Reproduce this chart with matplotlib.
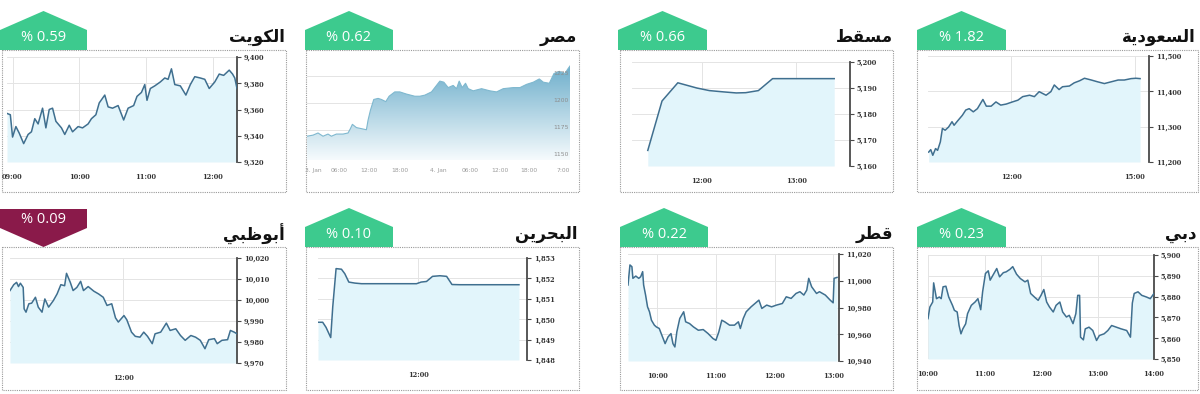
import numpy as np
import matplotlib
matplotlib.use("Agg")
import matplotlib.pyplot as plt
from matplotlib.patches import Polygon, Rectangle
from matplotlib.colors import LinearSegmentedColormap

# ---- data ----
names = ["الكويت", "مصر", "مسقط", "السعودية", "أبوظبي", "البحرين", "قطر", "دبي"]
changes = ["% 0.59", "% 0.62", "% 0.66", "% 1.82", "% 0.09", "% 0.10", "% 0.22", "% 0.23"]
is_up = [True, True, True, True, False, True, True, True]

kuwait_t = ["08:55", "08:58", "09:00", "09:03", "09:06", "09:10", "09:14", "09:17", "09:20", "09:23",
            "09:27", "09:30", "09:33", "09:36", "09:39", "09:44", "09:47", "09:51", "09:54", "09:59",
            "10:03", "10:08", "10:11", "10:15", "10:18", "10:23", "10:26", "10:30", "10:35", "10:40",
            "10:44", "10:49", "10:52", "10:56", "10:59", "11:01", "11:04", "11:08", "11:13", "11:17",
            "11:20", "11:23", "11:26", "11:31", "11:36", "11:40", "11:44", "11:49", "11:53", "11:57",
            "12:02", "12:06", "12:10", "12:15", "12:18", "12:20", "12:22"]
kuwait_v = [9357, 9356, 9339, 9347, 9342, 9334, 9341, 9343, 9353, 9349,
            9361, 9346, 9360, 9361, 9351, 9346, 9341, 9348, 9343, 9347,
            9346, 9349, 9353, 9356, 9365, 9371, 9362, 9361, 9363, 9352,
            9361, 9363, 9370, 9373, 9379, 9367, 9376, 9378, 9381, 9384,
            9383, 9391, 9379, 9378, 9371, 9379, 9385, 9384, 9383, 9376,
            9381, 9387, 9386, 9390, 9387, 9384, 9376]

# egypt is drawn on an ordinal (compressed) axis: position of each point along the session
egypt_x = [0, 18, 33, 48, 63, 73, 88, 108, 123, 130,
           136, 148, 163, 178, 183, 190, 200, 213, 223, 236,
           246, 263, 278, 298, 323, 338, 353, 373, 383, 398,
           410, 423, 438, 448, 456, 465, 475, 483, 498, 523,
           548, 568, 588, 618, 638, 658, 678, 696, 708, 726,
           740, 756, 773, 781, 788]
egypt_v = [1169, 1170, 1172, 1169, 1171, 1169, 1171, 1171, 1172, 1176,
           1180, 1177, 1176, 1175, 1184, 1193, 1203, 1204, 1203, 1201,
           1206, 1210, 1210, 1208, 1206, 1206, 1207, 1210, 1214, 1220,
           1219, 1214, 1216, 1213, 1220, 1214, 1218, 1213, 1211, 1213,
           1211, 1210, 1213, 1214, 1214, 1217, 1219, 1222, 1219, 1218,
           1227, 1229, 1227, 1231, 1234]
egypt_tick_x = [18, 96, 185, 278, 393, 488, 578, 666, 768]
egypt_tick_labels = ["3. Jan", "06:00", "12:00", "18:00", "4. Jan", "06:00", "12:00", "18:00", "7:00"]
egypt_levels = [1150, 1175, 1200, 1225]

muscat_t = ["11:26", "11:35", "11:45", "11:51", "11:57", "12:05", "12:14", "12:22", "12:28", "12:36",
            "12:45", "12:54", "13:24"]
muscat_v = [5166, 5185, 5192, 5191, 5190, 5189, 5188.5, 5188.1, 5188.2, 5189,
            5193.6, 5193.6, 5193.6]

saudi_t = ["10:00", "10:03", "10:06", "10:10", "10:13", "10:17", "10:20", "10:24", "10:29", "10:34",
           "10:37", "10:42", "10:49", "10:54", "10:59", "11:05", "11:11", "11:19", "11:24", "11:31",
           "11:38", "11:45", "11:53", "12:02", "12:10", "12:17", "12:27", "12:34", "12:41", "12:51",
           "12:58", "13:03", "13:10", "13:15", "13:25", "13:32", "13:40", "13:47", "13:57", "14:06",
           "14:16", "14:26", "14:36", "14:45", "14:55", "15:02", "15:08"]
saudi_v = [11228, 11235, 11219, 11238, 11233, 11257, 11295, 11290, 11299, 11314,
           11304, 11316, 11332, 11347, 11351, 11342, 11351, 11377, 11358, 11358,
           11370, 11361, 11364, 11370, 11375, 11385, 11389, 11385, 11399, 11389,
           11399, 11418, 11405, 11413, 11415, 11424, 11430, 11437, 11432, 11427,
           11422, 11427, 11432, 11432, 11436, 11437, 11436]

abudhabi_t = ["10:00", "10:04", "10:07", "10:09", "10:11", "10:14", "10:15", "10:17", "10:20", "10:23",
              "10:27", "10:30", "10:34", "10:37", "10:41", "10:46", "10:50", "10:54", "10:58", "11:00",
              "11:04", "11:07", "11:11", "11:15", "11:18", "11:23", "11:29", "11:34", "11:39", "11:43",
              "11:48", "11:52", "11:55", "12:01", "12:04", "12:09", "12:13", "12:18", "12:22", "12:26",
              "12:31", "12:34", "12:40", "12:46", "12:50", "12:56", "13:01", "13:06", "13:12", "13:17",
              "13:22", "13:27", "13:31", "13:37", "13:40", "13:45", "13:51", "13:54", "13:58", "14:01"]
abudhabi_v = [10004.5, 10007.3, 10008.4, 10006.4, 10008.0, 10006.0, 9995.8, 9994.2, 9998.2, 9998.5,
              10001.3, 9996.6, 9994.2, 10000.5, 9996.6, 9999.7, 10002.9, 10007.3, 10006.8, 10012.7,
              10008.4, 10004.5, 10006.0, 10008.9, 10004.5, 10006.4, 10004.2, 10002.9, 10001.3, 9997.4,
              9998.2, 9991.5, 9989.5, 9992.6, 9990.6, 9984.7, 9982.7, 9982.3, 9984.7, 9982.7,
              9979.2, 9983.9, 9984.7, 9989.0, 9985.5, 9986.3, 9983.1, 9980.8, 9983.1, 9982.3,
              9980.8, 9976.8, 9981.1, 9981.6, 9979.2, 9980.8, 9981.1, 9985.5, 9984.7, 9983.9]

bahrain_t = ["09:30", "09:37", "09:42", "09:49", "09:52", "09:57", "10:05", "10:10", "10:16", "10:25",
             "10:35", "11:07", "11:57", "12:04", "12:12", "12:21", "12:32", "12:42", "12:50", "13:02",
             "14:30"]
bahrain_v = [1849.85, 1849.85, 1849.6, 1849.1, 1850.6, 1852.48, 1852.45, 1852.23, 1851.82, 1851.77,
             1851.74, 1851.74, 1851.74, 1851.82, 1851.85, 1852.1, 1852.13, 1852.1, 1851.7, 1851.69,
             1851.69]

qatar_t = ["09:30", "09:32", "09:34", "09:35", "09:38", "09:41", "09:43", "09:45", "09:46", "09:48",
           "09:50", "09:52", "09:54", "09:57", "09:59", "10:02", "10:04", "10:08", "10:11", "10:14",
           "10:16", "10:18", "10:20", "10:23", "10:27", "10:29", "10:33", "10:37", "10:42", "10:47",
           "10:52", "10:57", "11:00", "11:03", "11:06", "11:09", "11:14", "11:19", "11:23", "11:25",
           "11:28", "11:31", "11:36", "11:40", "11:44", "11:47", "11:52", "11:57", "12:02", "12:08",
           "12:12", "12:17", "12:22", "12:26", "12:30", "12:33", "12:35", "12:38", "12:43", "12:46",
           "12:52", "12:57", "13:00", "13:01", "13:04"]
qatar_v = [10996.8, 11011.8, 11010.5, 11001.8, 11003.5, 11001.8, 11003.0, 11006.8, 10996.8, 10989.3,
           10980.5, 10976.8, 10970.5, 10966.8, 10965.5, 10964.3, 10960.5, 10953.0, 10958.0, 10960.5,
           10953.0, 10950.5, 10961.8, 10971.8, 10976.8, 10969.3, 10968.0, 10965.5, 10963.0, 10963.5,
           10960.5, 10956.8, 10955.5, 10961.8, 10970.5, 10969.3, 10966.8, 10966.8, 10969.3, 10964.3,
           10971.8, 10976.8, 10980.5, 10983.0, 10985.5, 10979.3, 10981.8, 10980.5, 10981.8, 10983.0,
           10988.0, 10986.8, 10990.5, 10991.8, 10989.3, 10993.0, 11001.8, 10995.5, 10990.5, 10991.8,
           10989.3, 10985.5, 10983.5, 11001.8, 11002.5]

dubai_t = ["10:00", "10:02", "10:05", "10:06", "10:09", "10:12", "10:14", "10:16", "10:19", "10:22",
           "10:26", "10:28", "10:31", "10:33", "10:35", "10:37", "10:40", "10:42", "10:46", "10:50",
           "10:53", "10:56", "10:58", "11:01", "11:04", "11:06", "11:09", "11:13", "11:16", "11:20",
           "11:23", "11:27", "11:30", "11:34", "11:38", "11:43", "11:46", "11:49", "11:53", "11:57",
           "12:00", "12:03", "12:06", "12:09", "12:13", "12:16", "12:20", "12:23", "12:27", "12:30",
           "12:34", "12:37", "12:39", "12:41", "12:42", "12:45", "12:47", "12:51", "12:55", "12:59",
           "13:02", "13:07", "13:11", "13:15", "13:20", "13:25", "13:31", "13:35", "13:37", "13:39",
           "13:43", "13:47", "13:52", "13:56", "14:00"]
dubai_v = [5869.4, 5875.0, 5877.4, 5886.6, 5879.0, 5879.8, 5879.0, 5884.7, 5885.0, 5879.8,
           5875.8, 5873.4, 5872.6, 5866.1, 5862.1, 5864.5, 5866.9, 5871.8, 5875.8, 5877.4,
           5879.0, 5873.7, 5882.3, 5891.1, 5892.4, 5887.9, 5890.3, 5893.5, 5889.5, 5891.5,
           5891.9, 5893.1, 5894.4, 5890.8, 5888.7, 5887.1, 5887.9, 5881.5, 5879.8, 5878.2,
           5880.6, 5883.4, 5877.4, 5875.0, 5872.6, 5875.8, 5877.4, 5872.6, 5870.2, 5871.0,
           5867.0, 5871.8, 5880.6, 5880.6, 5860.5, 5859.2, 5864.5, 5865.3, 5863.7, 5858.9,
           5861.3, 5862.1, 5863.7, 5866.1, 5865.3, 5864.5, 5863.7, 5860.5, 5876.9, 5881.5,
           5882.3, 5880.6, 5879.8, 5879.0, 5881.5]

# ---- styling ----
W, H = 1200, 394
GREEN = "#3dca8e"
RED = "#8a1a4a"
LINE = "#3f6f8f"
FILL = "#e2f5fb"
GRID = "#e4e4e4"
AXIS = "#4a4a4a"


def hrs(times):
    return np.array([int(t[:2]) + int(t[3:]) / 60 for t in times])


# minimal arabic shaping: isolated, final, initial, medial
FORMS = {
    "ا": ("\uFE8D", "\uFE8E", None, None),
    "أ": ("\uFE83", "\uFE84", None, None),
    "ب": ("\uFE8F", "\uFE90", "\uFE91", "\uFE92"),
    "ت": ("\uFE95", "\uFE96", "\uFE97", "\uFE98"),
    "ة": ("\uFE93", "\uFE94", None, None),
    "ح": ("\uFEA1", "\uFEA2", "\uFEA3", "\uFEA4"),
    "د": ("\uFEA9", "\uFEAA", None, None),
    "ر": ("\uFEAD", "\uFEAE", None, None),
    "س": ("\uFEB1", "\uFEB2", "\uFEB3", "\uFEB4"),
    "ص": ("\uFEB9", "\uFEBA", "\uFEBB", "\uFEBC"),
    "ط": ("\uFEC1", "\uFEC2", "\uFEC3", "\uFEC4"),
    "ظ": ("\uFEC5", "\uFEC6", "\uFEC7", "\uFEC8"),
    "ع": ("\uFEC9", "\uFECA", "\uFECB", "\uFECC"),
    "ق": ("\uFED5", "\uFED6", "\uFED7", "\uFED8"),
    "ك": ("\uFED9", "\uFEDA", "\uFEDB", "\uFEDC"),
    "ل": ("\uFEDD", "\uFEDE", "\uFEDF", "\uFEE0"),
    "م": ("\uFEE1", "\uFEE2", "\uFEE3", "\uFEE4"),
    "ن": ("\uFEE5", "\uFEE6", "\uFEE7", "\uFEE8"),
    "و": ("\uFEED", "\uFEEE", None, None),
    "ي": ("\uFEF1", "\uFEF2", "\uFEF3", "\uFEF4"),
}


def shape_ar(word):
    out = []
    for i, ch in enumerate(word):
        f = FORMS[ch]
        joins_prev = i > 0 and FORMS[word[i - 1]][2] is not None
        joins_next = i < len(word) - 1 and f[2] is not None
        if joins_prev and joins_next:
            g = f[3]
        elif joins_prev:
            g = f[1]
        elif joins_next:
            g = f[2]
        else:
            g = f[0]
        out.append(g)
    return "".join(reversed(out))


fig = plt.figure(figsize=(12, 3.94), dpi=100)
over = fig.add_axes([0, 0, 1, 1])
over.set_xlim(0, W)
over.set_ylim(H, 0)
over.axis("off")


def px_axes(x0, y0, x1, y1):
    return fig.add_axes([x0 / W, 1 - y1 / H, (x1 - x0) / W, (y1 - y0) / H])


def frame(box, badge_x, row, name, change, up):
    bx0, bx1, title_x = box
    top = 50 if row == 0 else 247
    bottom = 192 if row == 0 else 390
    over.add_patch(Rectangle((bx0, top), bx1 - bx0, bottom - top, fill=False,
                             ec="#9a9a9a", lw=0.8, ls=(0, (1, 1))))
    x0, x1 = badge_x
    xa = (x0 + x1) / 2
    if up:
        ya, ys = top - 39, top - 20
        pts = [(x0, top), (x0, ys), (xa, ya), (x1, ys), (x1, top)]
        ty = top - 13
        col = GREEN
    else:
        yt, ys = top - 38, top - 19
        pts = [(x0, yt), (x1, yt), (x1, ys), (xa, top), (x0, ys)]
        ty = top - 28
        col = RED
    over.add_patch(Polygon(pts, closed=True, fc=col, ec="none"))
    over.text(xa, ty, change, color="white", fontsize=10.5, ha="center", va="center",
              family="Open Sans")
    over.text(title_x, top - 13, shape_ar(name), fontsize=12, fontweight="bold",
              ha="right", va="center", color="#111", family=["DejaVu Sans"])


def std_panel(area, t, v, ylim, yticks, xticks, xlim):
    ax = px_axes(*area)
    x = hrs(t)
    ax.fill_between(x, v, ylim[0], color=FILL, lw=0, zorder=1)
    ax.plot(x, v, color=LINE, lw=1.1, zorder=3)
    ax.set_xlim(*hrs(xlim))
    ax.set_ylim(*ylim)
    ax.set_yticks(yticks)
    ax.set_yticklabels([f"{y:,}" for y in yticks])
    ax.yaxis.tick_right()
    ax.set_xticks(hrs(xticks))
    ax.set_xticklabels(xticks)
    ax.grid(True, color=GRID, lw=0.7)
    ax.set_axisbelow(True)
    ax.set_facecolor("none")
    for s in ["top", "left", "bottom"]:
        ax.spines[s].set_visible(False)
    ax.spines["right"].set_color(AXIS)
    ax.spines["right"].set_linewidth(1.3)
    ax.tick_params(axis="y", direction="out", length=3, width=0.8, color=AXIS,
                   labelsize=4.8, labelcolor="#333", pad=2)
    ax.tick_params(axis="x", length=0, labelsize=4.8, labelcolor="#333", pad=8)
    for lab in ax.get_xticklabels() + ax.get_yticklabels():
        lab.set_fontfamily("DejaVu Serif")
        lab.set_fontweight("bold")
    return ax


def egypt_panel(area, x, v, levels, tick_x, tick_labels):
    ax = px_axes(*area)
    x = np.array(x, dtype=float)
    v = np.array(v, dtype=float)
    step = levels[1] - levels[0]
    lo, hi = levels[0] - 0.12 * step, levels[-1] + 0.84 * step
    verts = [(x[0], lo)] + list(zip(x, v)) + [(x[-1], lo)]
    clip = Polygon(verts, closed=True, fc="none", ec="none", transform=ax.transData)
    ax.add_patch(clip)
    cmap = LinearSegmentedColormap.from_list("eg", ["#f6fbfd", "#6daecb"])
    grad = np.linspace(1, 0, 256).reshape(-1, 1)
    im = ax.imshow(grad, extent=[x.min(), x.max(), lo, v.max()], aspect="auto",
                   cmap=cmap, zorder=1)
    im.set_clip_path(clip)
    ax.plot(x, v, color="#7fb8cf", lw=0.8, zorder=2)
    for lv in levels:
        ax.axhline(lv, color=GRID, lw=0.7, zorder=0)
        ax.text(0.995, lv, f"{lv}", transform=ax.get_yaxis_transform(), ha="right",
                va="bottom", fontsize=4.3, color="#8c8c8c", zorder=3)
    ax.set_xlim(x.min(), x.max())
    ax.set_ylim(lo, hi)
    ax.set_yticks([])
    ax.set_xticks(tick_x)
    ax.set_xticklabels(tick_labels)
    ax.tick_params(axis="x", length=0, labelsize=4.3, labelcolor="#9a9a9a", pad=6)
    for s in ax.spines.values():
        s.set_visible(False)
    ax.set_facecolor("none")
    return ax


# ---- frames, badges and titles ----
boxes = [(2, 286, 285), (306, 579, 577), (620, 893, 893), (917, 1198, 1196),
         (2, 286, 285), (306, 579, 577), (620, 893, 893), (917, 1198, 1197)]
badges = [(0, 87), (305, 393), (618, 707), (917, 1006),
          (0, 87), (305, 393), (620, 708), (917, 1006)]
for i in range(8):
    frame(boxes[i], badges[i], i // 4, names[i], changes[i], is_up[i])

# ---- charts ----
std_panel((7, 57, 237, 162), kuwait_t, kuwait_v, (9320, 9400),
          [9320, 9340, 9360, 9380, 9400], ["09:00", "10:00", "11:00", "12:00"],
          ("08:55", "12:22"))
egypt_panel((307, 53, 570, 160), egypt_x, egypt_v, egypt_levels, egypt_tick_x, egypt_tick_labels)
std_panel((632, 62, 850, 166), muscat_t, muscat_v, (5160, 5200),
          [5160, 5170, 5180, 5190, 5200], ["12:00", "13:00"], ("11:16", "13:34"))
std_panel((928, 56, 1149, 162), saudi_t, saudi_v, (11200, 11500),
          [11200, 11300, 11400, 11500], ["12:00", "15:00"], ("09:59", "15:21"))

std_panel((10, 258, 237, 363), abudhabi_t, abudhabi_v, (9970, 10020),
          [9970, 9980, 9990, 10000, 10010, 10020], ["12:00"], ("10:00", "14:01"))
std_panel((318, 258, 527, 360), bahrain_t, bahrain_v, (1848, 1853),
          [1848, 1849, 1850, 1851, 1852, 1853], ["12:00"], ("09:30", "14:42"))
std_panel((628, 254, 839, 361), qatar_t, qatar_v, (10940, 11020),
          [10940, 10960, 10980, 11000, 11020], ["10:00", "11:00", "12:00", "13:00"],
          ("09:30", "13:06"))
std_panel((928, 255, 1154, 359), dubai_t, dubai_v, (5850, 5900),
          [5850, 5860, 5870, 5880, 5890, 5900], ["10:00", "11:00", "12:00", "13:00", "14:00"],
          ("10:00", "14:00"))

fig.savefig("out.png", dpi=100, facecolor="white")
